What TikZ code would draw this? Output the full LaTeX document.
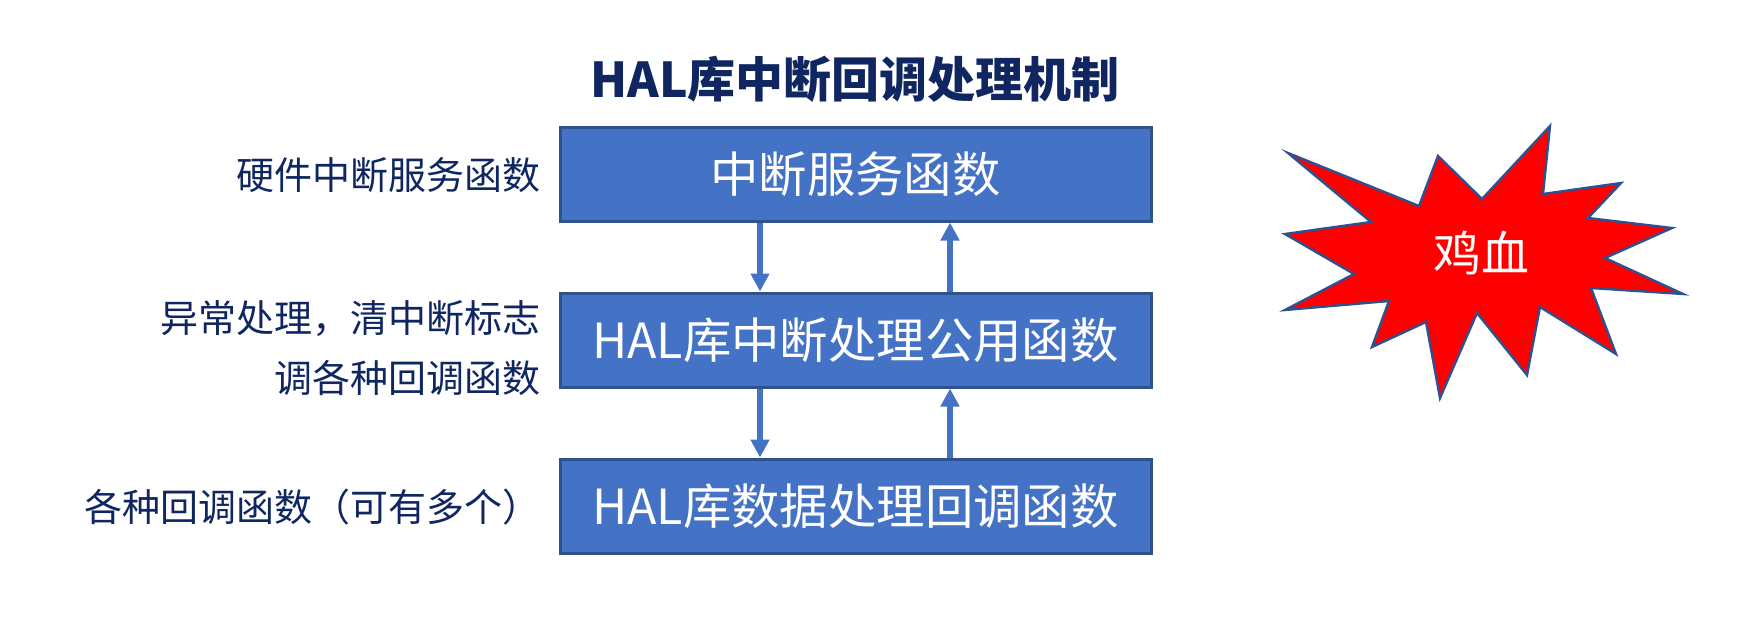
\documentclass[tikz,border=0pt]{standalone}
\usepackage{fontspec}
\setmainfont{Noto Sans CJK SC}
\usepackage{tikz}
\usetikzlibrary{arrows.meta,positioning,calc}
\definecolor{navy}{HTML}{0F2660}
\definecolor{boxfill}{HTML}{4472C4}
\definecolor{boxedge}{HTML}{2F528F}
\definecolor{burst}{HTML}{FF0000}

\tikzset{
  layer/.style={draw=boxedge,line width=1.5pt,fill=boxfill,text=white,
    minimum width=295.5pt,minimum height=47pt,inner sep=0pt,
    font=\fontsize{24.2pt}{27pt}\selectfont},
  note/.style={anchor=east,align=right,text=navy,inner sep=0pt,
    font=\fontsize{19pt}{30pt}\selectfont},
  flow/.style={-{Triangle[width=9pt,length=9pt]},line width=3pt,draw=boxfill},
}

\begin{document}
\begin{tikzpicture}[x=0.5pt,y=-0.5pt]
  \useasboundingbox (0,0) rectangle (1763,633);
  % title
  \node[text=navy,font=\fontsize{24pt}{28pt}\selectfont\bfseries] (title) at (855,79)
    {HAL库中断回调处理机制};
  % the three layers
  \foreach \n/\y/\lbl in {svc/174/{中断服务函数},com/340/{HAL库中断处理公用函数},
                          cb/506/{HAL库数据处理回调函数}}{
    \node[layer] (\n) at (855.5,\y) {\lbl};
  }
  % notes on the left
  \node[note] (nsvc) at (541,175) {硬件中断服务函数};
  \node[note] (ncom) at (541,348) {异常处理，清中断标志\\调各种回调函数};
  \node[note] (ncb) at (541,507) {各种回调函数（可有多个）};
  % calls down, returns up
  \draw[flow] ($(svc.south)+(-95.5,0)$) -- ($(com.north)+(-95.5,0)$);
  \draw[flow] ($(com.north)+(94.5,0)$) -- ($(svc.south)+(94.5,0)$);
  \draw[flow] ($(com.south)+(-95.5,0)$) -- ($(cb.north)+(-95.5,0)$);
  \draw[flow] ($(cb.north)+(94.5,0)$) -- ($(com.south)+(94.5,0)$);
  % explosion
  \draw[fill=burst,draw=boxedge,line width=1.2pt,line join=miter]
    (1288,153) -- (1419,206) -- (1438,156) -- (1482,199) -- (1550,126)
    -- (1543,194) -- (1621,183) -- (1588,218) -- (1672,228) -- (1605,258)
    -- (1683,294) -- (1591,288) -- (1616,354) -- (1540,307) -- (1527,375)
    -- (1477,313) -- (1440,398) -- (1426,322) -- (1372,347) -- (1389,301)
    -- (1285,310) -- (1354,274) -- (1285,234) -- (1371,222) -- cycle;
  \node[text=white,font=\fontsize{24pt}{28pt}\selectfont] (boost) at (1481,253) {鸡血};
\end{tikzpicture}
\end{document}
